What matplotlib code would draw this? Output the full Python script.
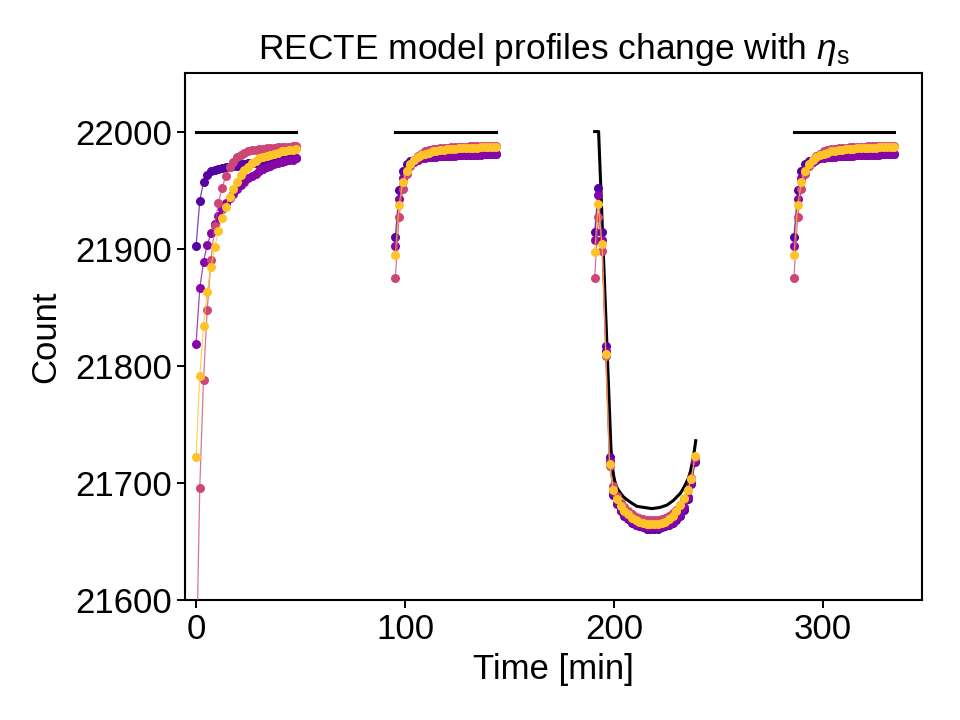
import matplotlib
matplotlib.use("Agg")
import matplotlib.pyplot as plt

plt.rcParams['font.family'] = ['Liberation Sans', 'DejaVu Sans']
plt.rcParams['mathtext.fontset'] = 'custom'
plt.rcParams['mathtext.rm'] = 'Liberation Sans'
plt.rcParams['mathtext.it'] = 'Liberation Sans:italic'

# ---- data ----
orbit_starts = [0.0, 95.4, 190.8, 286.2]
exp_offsets = [0.0, 1.78, 3.56, 5.34, 7.12, 8.90, 10.68, 12.46, 14.24, 16.02,
               17.80, 19.58, 21.36, 23.14, 24.92, 26.70, 28.48, 30.26, 32.04,
               33.82, 35.60, 37.38, 39.16, 40.94, 42.72, 44.50, 46.28, 48.06]

series_colors = ['#5402a3', '#8606a6', '#cc4778', '#fdc328']

ramp_a_orbit1 = [21902, 21941, 21957, 21963, 21966, 21967, 21968, 21969, 21970, 21970, 21971, 21971, 21972, 21972,
                 21973, 21973, 21973, 21974, 21974, 21975, 21975, 21975, 21976, 21976, 21976, 21977, 21977, 21977]
ramp_a_orbit2 = [21910, 21950, 21966, 21972, 21975, 21976, 21977, 21977, 21978, 21978, 21978, 21979, 21979, 21979,
                 21979, 21979, 21980, 21980, 21980, 21980, 21980, 21980, 21980, 21981, 21981, 21981, 21981, 21981]
ramp_a_orbit3 = [21914, 21952, 21914, 21817, 21722, 21690, 21682, 21676, 21672, 21669, 21666, 21664, 21663, 21662,
                 21661, 21661, 21661, 21661, 21662, 21663, 21664, 21666, 21668, 21672, 21677, 21686, 21699, 21718]
ramp_a_orbit4 = [21910, 21950, 21966, 21972, 21975, 21976, 21977, 21977, 21978, 21978, 21978, 21979, 21979, 21979,
                 21979, 21979, 21980, 21980, 21980, 21980, 21980, 21980, 21980, 21981, 21981, 21981, 21981, 21981]

ramp_b_orbit1 = [21819, 21866, 21889, 21903, 21913, 21921, 21928, 21934, 21939, 21943, 21947, 21951, 21954, 21957,
                 21960, 21962, 21964, 21966, 21968, 21970, 21971, 21972, 21973, 21974, 21975, 21976, 21976, 21977]
ramp_b_orbit2 = [21902, 21942, 21960, 21968, 21972, 21974, 21976, 21977, 21977, 21978, 21978, 21978, 21979, 21979,
                 21979, 21979, 21979, 21980, 21980, 21980, 21980, 21980, 21980, 21980, 21981, 21981, 21981, 21981]
ramp_b_orbit3 = [21907, 21946, 21907, 21813, 21719, 21691, 21683, 21677, 21673, 21670, 21667, 21665, 21664, 21663,
                 21662, 21662, 21662, 21662, 21663, 21664, 21665, 21667, 21670, 21674, 21679, 21688, 21700, 21719]
ramp_b_orbit4 = [21902, 21942, 21960, 21968, 21972, 21974, 21976, 21977, 21977, 21978, 21978, 21978, 21979, 21979,
                 21979, 21979, 21979, 21980, 21980, 21980, 21980, 21980, 21980, 21980, 21981, 21981, 21981, 21981]

ramp_c_orbit1 = [21530, 21696, 21788, 21848, 21890, 21919, 21939, 21952, 21962, 21970, 21974, 21978, 21980, 21982,
                 21983, 21984, 21984, 21985, 21985, 21986, 21986, 21986, 21987, 21987, 21987, 21987, 21988, 21988]
ramp_c_orbit2 = [21875, 21927, 21951, 21964, 21971, 21976, 21979, 21981, 21983, 21984, 21985, 21985, 21986, 21986,
                 21986, 21987, 21987, 21987, 21987, 21987, 21988, 21988, 21988, 21988, 21988, 21988, 21988, 21988]
ramp_c_orbit3 = [21875, 21927, 21898, 21808, 21714, 21697, 21689, 21683, 21679, 21676, 21673, 21671, 21670, 21669,
                 21668, 21668, 21668, 21668, 21669, 21670, 21672, 21674, 21677, 21681, 21686, 21694, 21704, 21722]
ramp_c_orbit4 = [21875, 21927, 21951, 21964, 21971, 21976, 21979, 21981, 21983, 21984, 21985, 21985, 21986, 21986,
                 21986, 21987, 21987, 21987, 21987, 21987, 21988, 21988, 21988, 21988, 21988, 21988, 21988, 21988]

ramp_d_orbit1 = [21722, 21791, 21834, 21863, 21884, 21901, 21915, 21926, 21936, 21944, 21951, 21957, 21963, 21967,
                 21970, 21973, 21975, 21977, 21978, 21979, 21980, 21981, 21982, 21983, 21983, 21984, 21984, 21985]
ramp_d_orbit2 = [21895, 21937, 21957, 21966, 21972, 21976, 21978, 21980, 21981, 21982, 21983, 21983, 21984, 21984,
                 21985, 21985, 21985, 21986, 21986, 21986, 21986, 21986, 21986, 21987, 21987, 21987, 21987, 21987]
ramp_d_orbit3 = [21897, 21938, 21904, 21810, 21716, 21694, 21686, 21680, 21676, 21673, 21670, 21668, 21667, 21666,
                 21665, 21665, 21665, 21665, 21666, 21667, 21669, 21672, 21676, 21681, 21687, 21694, 21703, 21723]
ramp_d_orbit4 = [21895, 21937, 21957, 21966, 21972, 21976, 21978, 21980, 21981, 21982, 21983, 21983, 21984, 21984,
                 21985, 21985, 21985, 21986, 21986, 21986, 21986, 21986, 21986, 21987, 21987, 21987, 21987, 21987]

model_t_orbit1 = [0.0, 48.06]
model_y_orbit1 = [22000, 22000]
model_t_orbit2 = [95.4, 143.46]
model_y_orbit2 = [22000, 22000]
model_t_orbit3 = [190.8, 192.7, 195.3, 197.9, 198.6, 199.2, 199.9, 200.5, 201.2, 202.1, 203.3, 204.6, 206.0,
                  207.5, 209.2, 211.0, 214.5, 218.2, 222.0, 225.4, 228.5, 231.8, 233.8, 235.7, 236.7, 237.5,
                  238.4, 239.2]
model_y_orbit3 = [22000, 22000, 21881, 21762, 21730, 21715, 21706, 21701, 21697, 21694, 21691, 21688, 21686,
                  21684, 21682, 21680, 21679, 21678, 21679, 21681, 21685, 21691, 21697, 21704, 21710, 21717,
                  21726, 21736]
model_t_orbit4 = [286.2, 334.26]
model_y_orbit4 = [22000, 22000]

series = [
    [ramp_a_orbit1, ramp_a_orbit2, ramp_a_orbit3, ramp_a_orbit4],
    [ramp_b_orbit1, ramp_b_orbit2, ramp_b_orbit3, ramp_b_orbit4],
    [ramp_c_orbit1, ramp_c_orbit2, ramp_c_orbit3, ramp_c_orbit4],
    [ramp_d_orbit1, ramp_d_orbit2, ramp_d_orbit3, ramp_d_orbit4],
]
models = [(model_t_orbit1, model_y_orbit1), (model_t_orbit2, model_y_orbit2),
          (model_t_orbit3, model_y_orbit3), (model_t_orbit4, model_y_orbit4)]

# ---- plot ----
fig = plt.figure(figsize=(9.6, 7.2), dpi=100)
ax = fig.add_axes([0.1927, 0.1667, 0.7677, 0.7319])

for mt, my in models:
    ax.plot(mt, my, color='black', lw=2.2, solid_capstyle='projecting',
            solid_joinstyle='round', zorder=2)

for color, orbits in zip(series_colors, series):
    for start, vals in zip(orbit_starts, orbits):
        tt = [start + o for o in exp_offsets]
        ax.plot(tt, vals, '-', color=color, lw=0.9, alpha=0.75, zorder=3)
        ax.plot(tt, vals, 'o', color=color, ms=6.5, mec='none', zorder=3)

ax.set_xlim(-5.3, 347.5)
ax.set_ylim(21600, 22050)
ax.set_xticks([0, 100, 200, 300])
ax.set_yticks([21600, 21700, 21800, 21900, 22000])
ax.tick_params(labelsize=25, width=1.4, length=6, direction='out')
for s in ax.spines.values():
    s.set_linewidth(1.5)

ax.set_xlabel('Time [min]', fontsize=25, labelpad=5)
ax.set_ylabel('Count', fontsize=25, labelpad=9)
ax.set_title(r'RECTE model profiles change with $\eta_\mathrm{s}$', fontsize=25.5, pad=10)

fig.savefig('out.png', dpi=100)
